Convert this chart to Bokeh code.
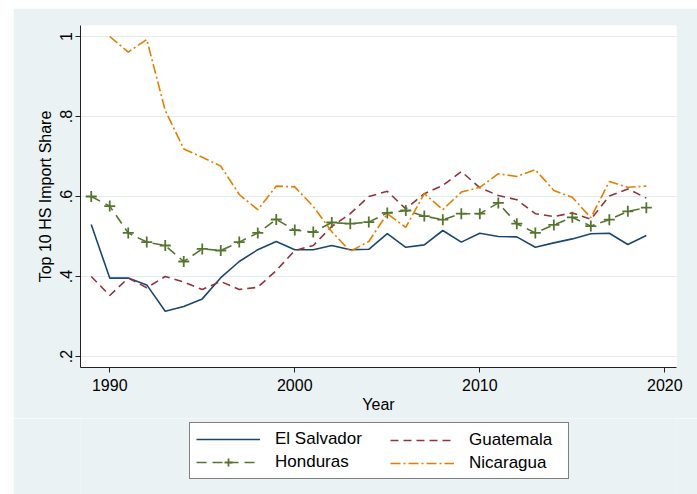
from bokeh.plotting import figure
from bokeh.layouts import column
from bokeh.models import FixedTicker, Legend, LegendItem, Range1d
from bokeh.embed import file_html
from bokeh.resources import INLINE

years = list(range(1989, 2020))
el_salvador = [0.530, 0.396, 0.396, 0.379, 0.313, 0.325, 0.344, 0.397, 0.4375, 0.467, 0.4875,
               0.467, 0.467, 0.4775, 0.467, 0.468, 0.507, 0.473, 0.479, 0.515, 0.486,
               0.508, 0.500, 0.499, 0.473, 0.484, 0.494, 0.507, 0.508, 0.480, 0.5025]
guatemala = [0.400, 0.3525, 0.396, 0.372, 0.400, 0.386, 0.3675, 0.3875, 0.3675, 0.373, 0.415,
             0.465, 0.4775, 0.525, 0.557, 0.600, 0.613, 0.569, 0.607, 0.6275, 0.6625,
             0.622, 0.6025, 0.592, 0.557, 0.550, 0.559, 0.543, 0.601, 0.619, 0.596]
honduras = [0.600, 0.576, 0.509, 0.486, 0.4775, 0.4375, 0.469, 0.465, 0.486, 0.509, 0.5425,
            0.516, 0.511, 0.535, 0.532, 0.536, 0.559, 0.565, 0.551, 0.542, 0.557,
            0.557, 0.584, 0.532, 0.509, 0.529, 0.548, 0.526, 0.542, 0.563, 0.572]
nic_years = list(range(1990, 2020))
nicaragua = [1.000, 0.961, 0.9925, 0.815, 0.719, 0.698, 0.676, 0.605, 0.567, 0.626,
             0.624, 0.575, 0.512, 0.463, 0.4875, 0.557, 0.523, 0.607, 0.567, 0.611,
             0.623, 0.657, 0.650, 0.667, 0.615, 0.598, 0.547, 0.6375, 0.623, 0.626]

x_ticks = [1990, 2000, 2010, 2020]
y_ticks = [0.2, 0.4, 0.6, 0.8, 1.0]
y_tick_labels = {0.2: ".2", 0.4: ".4", 0.6: ".6", 0.8: ".8", 1.0: "1"}

BG = "#EAF2F3"
GRID = "#E2EBEE"
FONT = "Liberation Sans"

STYLES = {
    "El Salvador": dict(line_color="#1a476f", line_width=1.6),
    "Guatemala": dict(line_color="#90353b", line_width=1.6, line_dash="8 5"),
    "Honduras": dict(line_color="#55752f", line_width=1.6, line_dash="10 6"),
    "Nicaragua": dict(line_color="#e37e00", line_width=1.6, line_dash="10 3 2 3"),
}
CROSS = dict(marker="cross", size=11, line_color="#55752f", line_width=1.8)

# ---------------- main chart ----------------
p = figure(width=684, height=410, output_backend="svg", toolbar_location=None,
           x_range=Range1d(1988.42, 2020.63), y_range=Range1d(0.1725, 1.0275),
           min_border_left=67, min_border_right=21, min_border_top=17, min_border_bottom=51)
p.margin = (8, 0, 0, 13)
p.border_fill_color = BG
p.background_fill_color = "white"
p.outline_line_color = None

p.xgrid.grid_line_color = None
p.ygrid.grid_line_color = GRID
p.ygrid.grid_line_width = 1.2
p.ygrid.ticker = FixedTicker(ticks=y_ticks)

p.xaxis.ticker = FixedTicker(ticks=x_ticks)
p.yaxis.ticker = FixedTicker(ticks=y_ticks)
p.yaxis.major_label_overrides = y_tick_labels
p.yaxis.major_label_orientation = "vertical"
for ax in (p.xaxis[0], p.yaxis[0]):
    ax.axis_line_color = "#222222"
    ax.major_tick_line_color = "#222222"
    ax.major_tick_out = 5
    ax.major_tick_in = 0
    ax.minor_tick_line_color = None
    ax.major_label_text_font = FONT
    ax.major_label_text_font_size = "16px"
    ax.major_label_text_color = "black"
    ax.axis_label_text_font = FONT
    ax.axis_label_text_font_size = "16px"
    ax.axis_label_text_font_style = "normal"
    ax.axis_label_text_color = "black"
p.xaxis.axis_label = "Year"
p.yaxis.axis_label = "Top 10 HS Import Share"
p.xaxis.major_label_standoff = 6
p.xaxis.axis_label_standoff = 2
p.yaxis.major_label_standoff = 4
p.yaxis.axis_label_standoff = 3

p.line(years, el_salvador, **STYLES["El Salvador"])
p.line(years, guatemala, **STYLES["Guatemala"])
p.line(years, honduras, **STYLES["Honduras"])
p.scatter(years, honduras, **CROSS)
p.line(nic_years, nicaragua, **STYLES["Nicaragua"])

# ---------------- legend strip (same series, outside its visible range) ----------------
# its frame is aligned with the main chart's frame (x 80..676 on the page)
q = figure(width=684, height=76, output_backend="svg", toolbar_location=None,
           x_range=Range1d(0, 1), y_range=Range1d(0, 1),
           x_axis_location=None, y_axis_location=None,
           min_border_left=67, min_border_right=21, min_border_top=0, min_border_bottom=0)
q.margin = (0, 0, 0, 13)
q.grid.visible = False
q.outline_line_color = None
q.border_fill_color = BG
q.background_fill_color = BG

l_es = q.line(years, el_salvador, **STYLES["El Salvador"])
l_gu = q.line(years, guatemala, **STYLES["Guatemala"])
l_ho = q.line(years, honduras, **STYLES["Honduras"])
l_hom = q.scatter(years, honduras, **CROSS)
l_ni = q.line(nic_years, nicaragua, **STYLES["Nicaragua"])


def make_legend(items, loc, label_width, boxed):
    lg = Legend(items=items, location=loc)
    lg.padding = 6
    lg.spacing = 3
    lg.margin = 0
    lg.glyph_width = 64
    lg.glyph_height = 20
    lg.label_height = 20
    lg.label_width = label_width
    lg.label_standoff = 15
    lg.label_text_font = FONT
    lg.label_text_font_size = "17px"
    lg.label_text_color = "black"
    if boxed:
        lg.border_line_color = "black"
        lg.border_line_width = 1
        lg.background_fill_color = "white"
        lg.background_fill_alpha = 1.0
    else:
        lg.border_line_color = None
        lg.background_fill_alpha = 0.0
    return lg


leg1 = make_legend([LegendItem(label="El Salvador", renderers=[l_es]),
                    LegendItem(label="Honduras", renderers=[l_ho, l_hom])],
                   (109, 15), 287, True)
leg2 = make_legend([LegendItem(label="Guatemala", renderers=[l_gu]),
                    LegendItem(label="Nicaragua", renderers=[l_ni])],
                   (310, 21), 20, False)
q.add_layout(leg1, "center")
q.add_layout(leg2, "center")

layout = column(p, q, spacing=0)
open("out.html", "w").write(file_html(layout, INLINE))
